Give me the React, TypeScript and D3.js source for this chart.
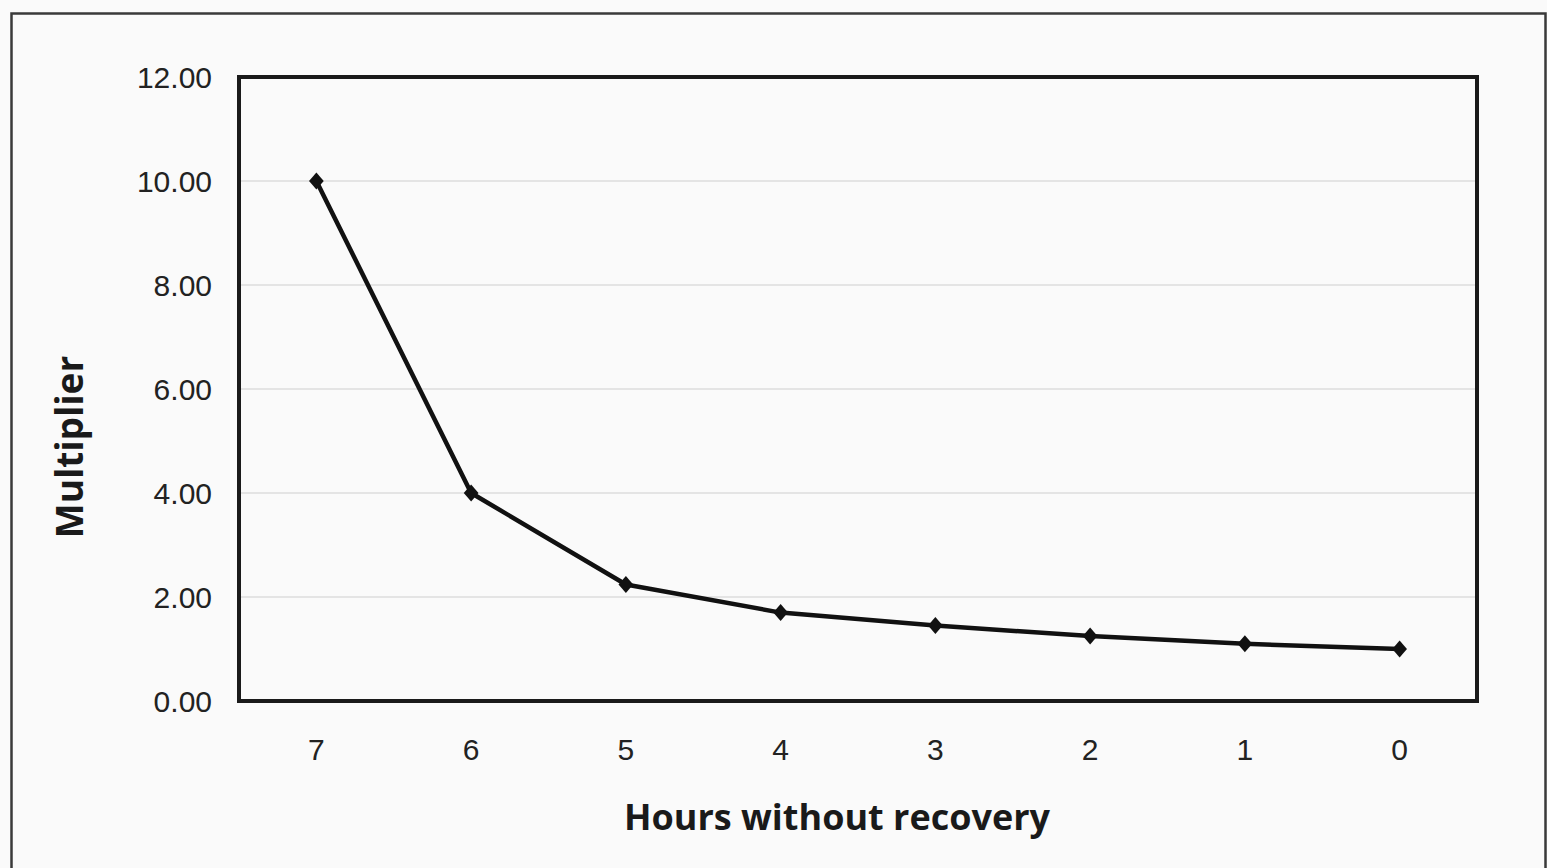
import React from "react";
import * as d3 from "d3";

const categories: string[] = ["7", "6", "5", "4", "3", "2", "1", "0"];
const multiplier: number[] = [10.0, 4.0, 2.24, 1.7, 1.45, 1.25, 1.1, 1.0];
const yTicks: number[] = [0, 2, 4, 6, 8, 10, 12];
const xTitle = "Hours without recovery";
const yTitle = "Multiplier";

const W = 1547;
const H = 868;
const plot = { left: 239, top: 77, right: 1477, bottom: 701 };

const diamond = {
  draw(ctx: any, size: number) {
    const r = Math.sqrt(size) / 2;
    ctx.moveTo(0, -r * 1.1);
    ctx.lineTo(r * 0.95, 0);
    ctx.lineTo(0, r * 1.1);
    ctx.lineTo(-r * 0.95, 0);
    ctx.closePath();
  },
};

export default function App() {
  const x = d3
    .scaleBand<string>()
    .domain(categories)
    .range([plot.left, plot.right])
    .paddingInner(0)
    .paddingOuter(0);
  const y = d3.scaleLinear().domain([0, 12]).range([plot.bottom, plot.top]);
  const cx = (c: string) => (x(c) as number) + x.bandwidth() / 2;

  const pts = categories.map((c, i) => [cx(c), y(multiplier[i])] as [number, number]);
  const line = d3.line<[number, number]>().x((d) => d[0]).y((d) => d[1]);
  const sym = d3.symbol().type(diamond as any).size(240);

  return (
    <div style={{ position: "absolute", left: 0, top: 0 }}>
      <svg width={W} height={H} style={{ display: "block" }}>
        <rect x={0} y={0} width={W} height={H} fill="#fafafa" />
        <rect
          x={11.5}
          y={13.5}
          width={1534}
          height={870}
          fill="#fafafa"
          stroke="#3a3a3a"
          strokeWidth={2.5}
        />
        {yTicks
          .filter((t) => t > 0 && t < 12)
          .map((t) => (
            <line
              key={"g" + t}
              x1={plot.left}
              x2={plot.right}
              y1={y(t)}
              y2={y(t)}
              stroke="#e4e4e4"
              strokeWidth={2}
            />
          ))}
        <rect
          x={plot.left}
          y={plot.top}
          width={plot.right - plot.left}
          height={plot.bottom - plot.top}
          fill="none"
          stroke="#1a1a1a"
          strokeWidth={4}
        />
        {yTicks.map((t) => (
          <text
            key={"y" + t}
            x={212}
            y={y(t)}
            dy="0.36em"
            textAnchor="end"
            fontFamily="Liberation Sans, Arial, sans-serif"
            fontSize={30}
            fill="#222"
          >
            {d3.format(".2f")(t)}
          </text>
        ))}
        {categories.map((c) => (
          <text
            key={"x" + c}
            x={cx(c)}
            y={749}
            dy="0.36em"
            textAnchor="middle"
            fontFamily="Liberation Sans, Arial, sans-serif"
            fontSize={30}
            fill="#222"
          >
            {c}
          </text>
        ))}
        <path d={line(pts) || ""} fill="none" stroke="#111" strokeWidth={4.5} strokeLinejoin="round" />
        {pts.map((p, i) => (
          <path key={"m" + i} d={sym() || ""} transform={`translate(${p[0]},${p[1]})`} fill="#111" />
        ))}
        <text
          x={837}
          y={830}
          textAnchor="middle"
          fontFamily="Open Sans, Noto Sans, sans-serif"
          fontWeight={700}
          fontSize={36}
          fill="#1a1a1a"
        >
          {xTitle}
        </text>
        <text
          transform={`translate(83,447) rotate(-90)`}
          textAnchor="middle"
          fontFamily="Open Sans, Noto Sans, sans-serif"
          fontWeight={700}
          fontSize={37}
          fill="#1a1a1a"
        >
          {yTitle}
        </text>
      </svg>
    </div>
  );
}
